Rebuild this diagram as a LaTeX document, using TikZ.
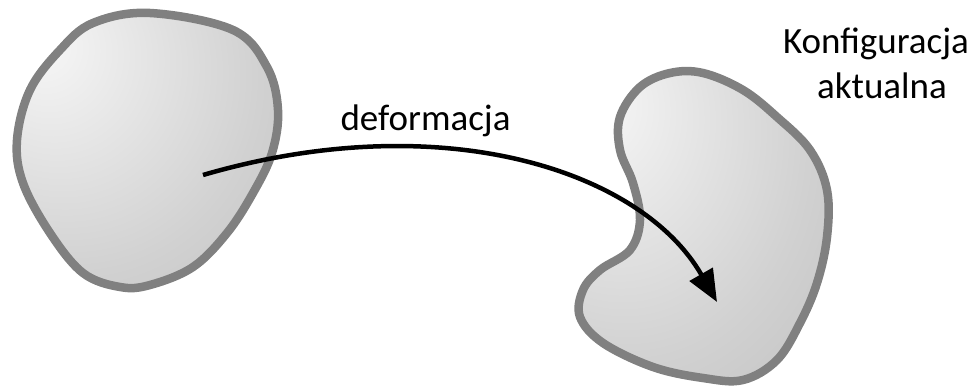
\documentclass[tikz,border=0pt]{standalone}
\usepackage{fontspec}
\setmainfont{Carlito}
\usetikzlibrary{arrows.meta}
\definecolor{hl}{gray}{0.97}
\definecolor{midg}{gray}{0.82}
\definecolor{edgeg}{gray}{0.70}
\definecolor{outl}{RGB}{128,128,128}
\pgfdeclareradialshading{blobA}{\pgfpoint{-21bp}{20bp}}{color(0bp)=(hl); color(35bp)=(midg); color(70bp)=(edgeg); color(100bp)=(edgeg)}
\pgfdeclareradialshading{blobB}{\pgfpoint{-22bp}{21bp}}{color(0bp)=(hl); color(35bp)=(midg); color(70bp)=(edgeg); color(100bp)=(edgeg)}
\tikzset{
  blob/.style={draw=outl, line width=8.5pt},
  lbl/.style={font=\fontsize{37}{45}\selectfont, text=black, inner sep=0pt},
  defarrow/.style={line width=4.5pt, -{Triangle[length=32pt,width=26pt]}}
}
\begin{document}
\begin{tikzpicture}[x=1pt,y=-1pt]
\useasboundingbox (0,0) rectangle (978,388);
% reference configuration
\path[blob, shading=blobA] plot[smooth cycle, tension=0.6] coordinates {
 (150,13) (233,30) (267,67) (278,110) (272,153) (253,193) (227,233) (193,267)
 (150,285) (120,287) (83,273) (50,233) (23,183) (17,140) (30,90) (60,50) (93,23)};
% current configuration
\path[blob, shading=blobB] plot[smooth cycle, tension=0.6] coordinates {
 (703,73) (743,90) (777,117) (810,150) (827,190) (827,237) (817,283) (800,323)
 (777,360) (743,380) (703,378) (653,367) (603,343) (580,317) (583,290) (600,270)
 (630,250) (640,220) (633,183) (620,150) (620,117) (640,87) (670,73)};
\coordinate (p0) at (203,175);
\coordinate (p1) at (717,302);
\draw[defarrow] (p0) .. controls (443,105) and (642,171) .. (p1);
\node[lbl, anchor=base] (def) at (425.5,130) {deformacja};
\node[lbl, anchor=base] (konf1) at (876,53) {Konfiguracja};
\node[lbl, anchor=base] (konf2) at (882,98) {aktualna};
\end{tikzpicture}
\end{document}
